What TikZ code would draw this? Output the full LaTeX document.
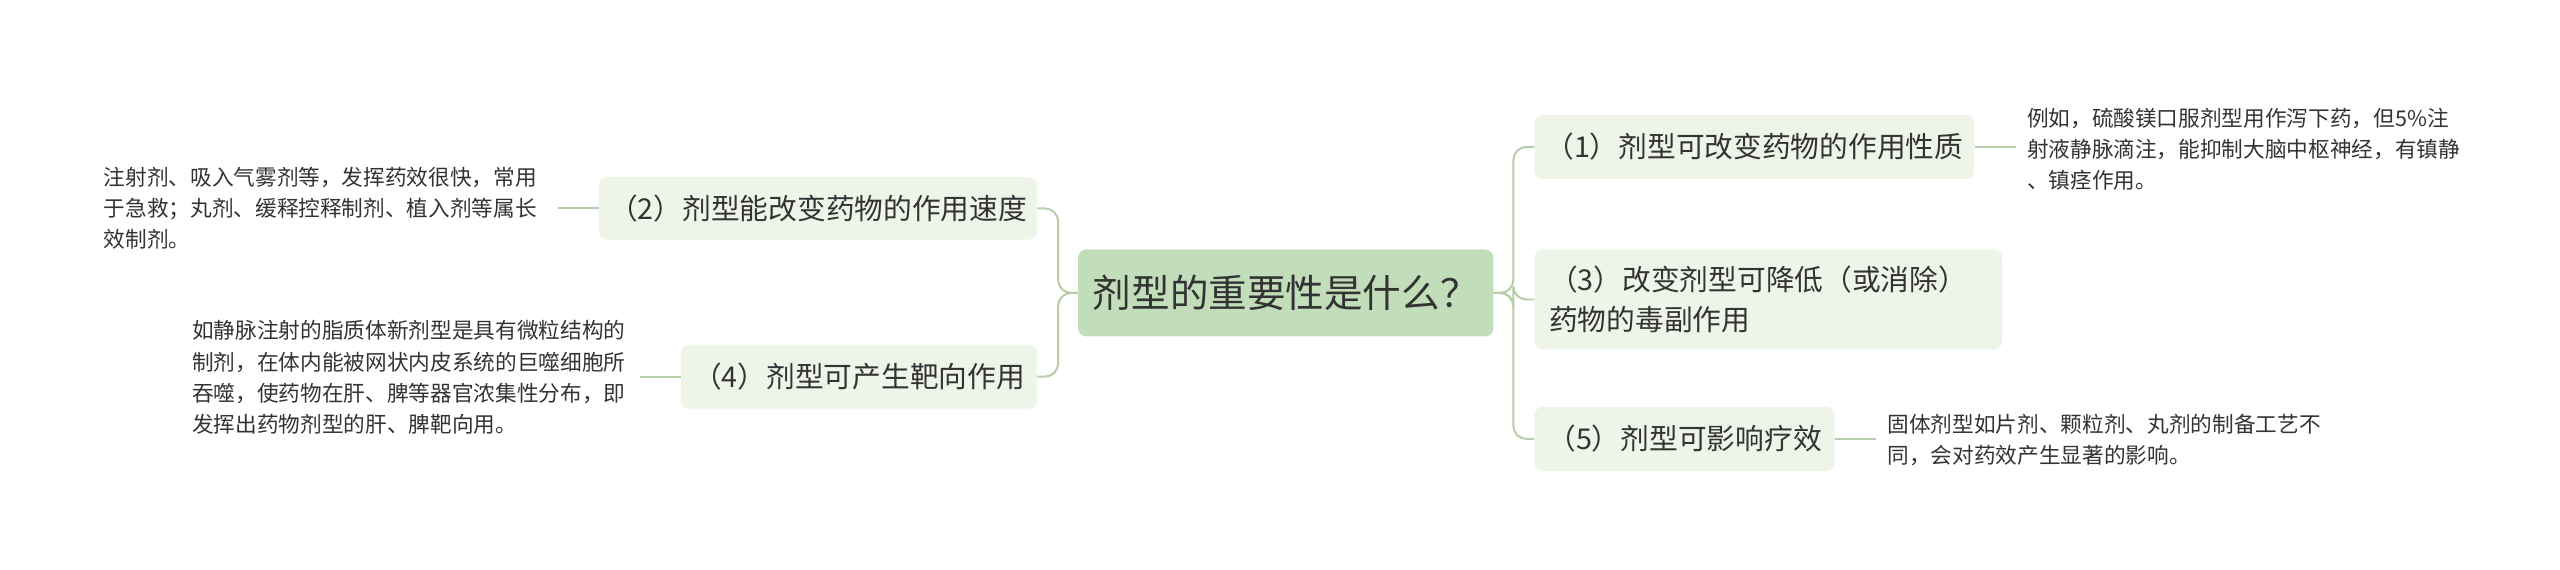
\documentclass[tikz,border=0pt]{standalone}
\usepackage{fontspec}
\setmainfont{Noto Sans CJK SC}
\begin{document}
\begin{tikzpicture}[x=1pt,y=-1pt,
  topic/.style={fill=topicfill,rounded corners=5pt,inner sep=0pt,font=\fontsize{17.5}{24}\selectfont,text=textc,align=left},
  leaf/.style={inner sep=0pt,font=\fontsize{13.2}{19}\selectfont,text=textc,align=left,anchor=west},
  conn/.style={draw=linec,line width=1.2pt,rounded corners=8pt}]
\definecolor{topicfill}{HTML}{EEF5E8}
\definecolor{centerfill}{HTML}{C2DDBA}
\definecolor{linec}{HTML}{B6CDA9}
\definecolor{textc}{HTML}{333333}
\useasboundingbox (0,0) rectangle (1560,347);
\node[fill=centerfill,rounded corners=5pt,minimum width=253,minimum height=53,font=\fontsize{23.5}{28}\selectfont,text=textc] (c) at (783.5,178.5) {剂型的重要性是什么？};
\node[topic,minimum width=267,minimum height=38] (n2) at (498.5,127) {（2）剂型能改变药物的作用速度};
\node[topic,minimum width=217,minimum height=39] (n4) at (523.5,229.5) {（4）剂型可产生靶向作用};
\node[topic,minimum width=285,minimum height=61,text width=267] (n3) at (1077.5,182.5) {（3）改变剂型可降低（或消除）\\药物的毒副作用};
\node[topic,minimum width=268,minimum height=39] (n1) at (1069,89.5) {（1）剂型可改变药物的作用性质};
\node[topic,minimum width=183,minimum height=39] (n5) at (1026.5,267.5) {（5）剂型可影响疗效};
\node[leaf] (l2) at (63,127) {注射剂、吸入气雾剂等，发挥药效很快，常用\\于急救；丸剂、缓释控释制剂、植入剂等属长\\效制剂。};
\node[leaf] (l4) at (117,230) {如静脉注射的脂质体新剂型是具有微粒结构的\\制剂，在体内能被网状内皮系统的巨噬细胞所\\吞噬，使药物在肝、脾等器官浓集性分布，即\\发挥出药物剂型的肝、脾靶向用。};
\node[leaf] (l1) at (1235,91) {例如，硫酸镁口服剂型用作泻下药，但5\%注\\射液静脉滴注，能抑制大脑中枢神经，有镇静\\、镇痉作用。};
\node[leaf] (l5) at (1150,268) {固体剂型如片剂、颗粒剂、丸剂的制备工艺不\\同，会对药效产生显著的影响。};
\draw[conn] (c.west) -- ++(-12,0) |- (n2.east);
\draw[conn] (c.west) -- ++(-12,0) |- (n4.east);
\draw[conn] (c.east) -- ++(12,0) |- (n1.west);
\draw[conn] (c.east) -- ++(12,0) |- (n3.west);
\draw[conn] (c.east) -- ++(12,0) |- (n5.west);
\draw[conn] (n2.west) -- ++(-25,0) coordinate (e2);
\draw[conn] (n4.west) -- ++(-25,0) coordinate (e4);
\draw[conn] (n1.east) -- ++(25,0) coordinate (e1);
\draw[conn] (n5.east) -- ++(25,0) coordinate (e5);
\end{tikzpicture}
\end{document}
